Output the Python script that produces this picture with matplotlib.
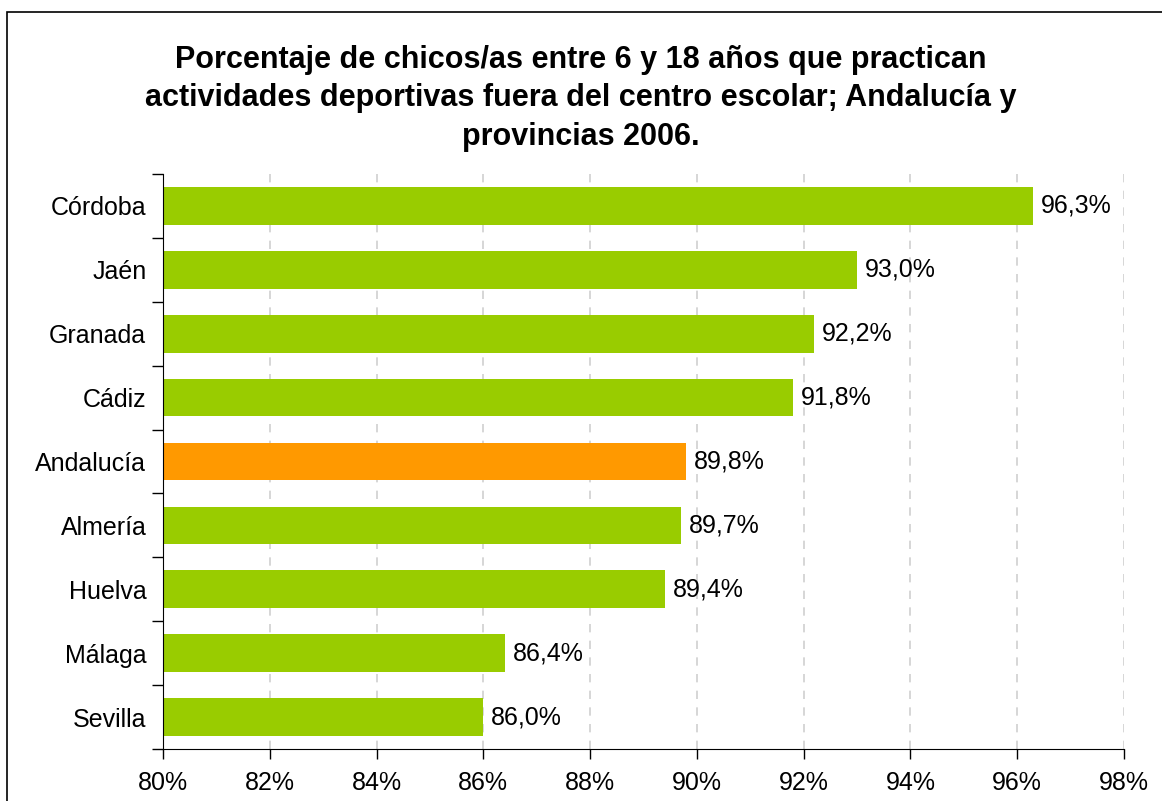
import numpy as np
import matplotlib.pyplot as plt
from matplotlib.patches import Rectangle

plt.rcParams['font.family'] = ['Liberation Sans', 'DejaVu Sans']

provincias = ["Córdoba", "Jaén", "Granada", "Cádiz", "Andalucía",
              "Almería", "Huelva", "Málaga", "Sevilla"]
porcentajes = [96.3, 93.0, 92.2, 91.8, 89.8, 89.7, 89.4, 86.4, 86.0]
colores = ["#99CC00", "#99CC00", "#99CC00", "#99CC00", "#FF9900",
           "#99CC00", "#99CC00", "#99CC00", "#99CC00"]
xticks = [80, 82, 84, 86, 88, 90, 92, 94, 96, 98]

titulo = ("Porcentaje de chicos/as entre 6 y 18 años que practican\n"
          "actividades deportivas fuera del centro escolar; Andalucía y\n"
          "provincias 2006.")


def main():
    fig = plt.figure(figsize=(11.62, 8.01), dpi=100)
    ax = fig.add_axes([0.1403, 0.0649, 0.9673 - 0.1403, 0.7828 - 0.0649])

    # marco exterior
    fig.patches.append(Rectangle((7 / 1162, -0.1), 1.2, (801 - 12) / 801 + 0.1,
                                 transform=fig.transFigure, fill=False,
                                 edgecolor="black", linewidth=1.2))

    y = np.arange(len(provincias))
    ax.barh(y, porcentajes, height=0.59, color=colores, zorder=3)

    for yi, v in zip(y, porcentajes):
        ax.text(v + 0.15, yi, f"{v:.1f}%".replace(".", ","), va="center",
                ha="left", fontsize=18, zorder=4)

    ax.set_xlim(80, 98)
    ax.set_ylim(len(provincias) - 0.5, -0.5)
    ax.set_xticks(xticks)
    ax.set_xticklabels([f"{t}%" for t in xticks], fontsize=18)
    ax.set_yticks(y)
    ax.set_yticklabels(provincias, fontsize=18)
    ax.tick_params(axis="y", which="major", length=0, pad=12)
    ax.set_yticks(np.arange(-0.5, len(provincias), 1), minor=True)
    ax.tick_params(axis="y", which="minor", length=8, width=1)
    ax.tick_params(axis="x", length=7, width=1, pad=9)

    ax.grid(axis="x", color="#D0D0D0", linestyle=(0, (5, 5)), linewidth=1.2, zorder=0)
    for s in ["top", "right"]:
        ax.spines[s].set_visible(False)
    ax.spines["left"].set_zorder(5)

    fig.text(0.5, 1 - 45 / 801, titulo, ha="center", va="top", fontsize=22,
             fontweight="bold", linespacing=1.36)

    fig.savefig("out.png", dpi=100)


if __name__ == "__main__":
    main()
